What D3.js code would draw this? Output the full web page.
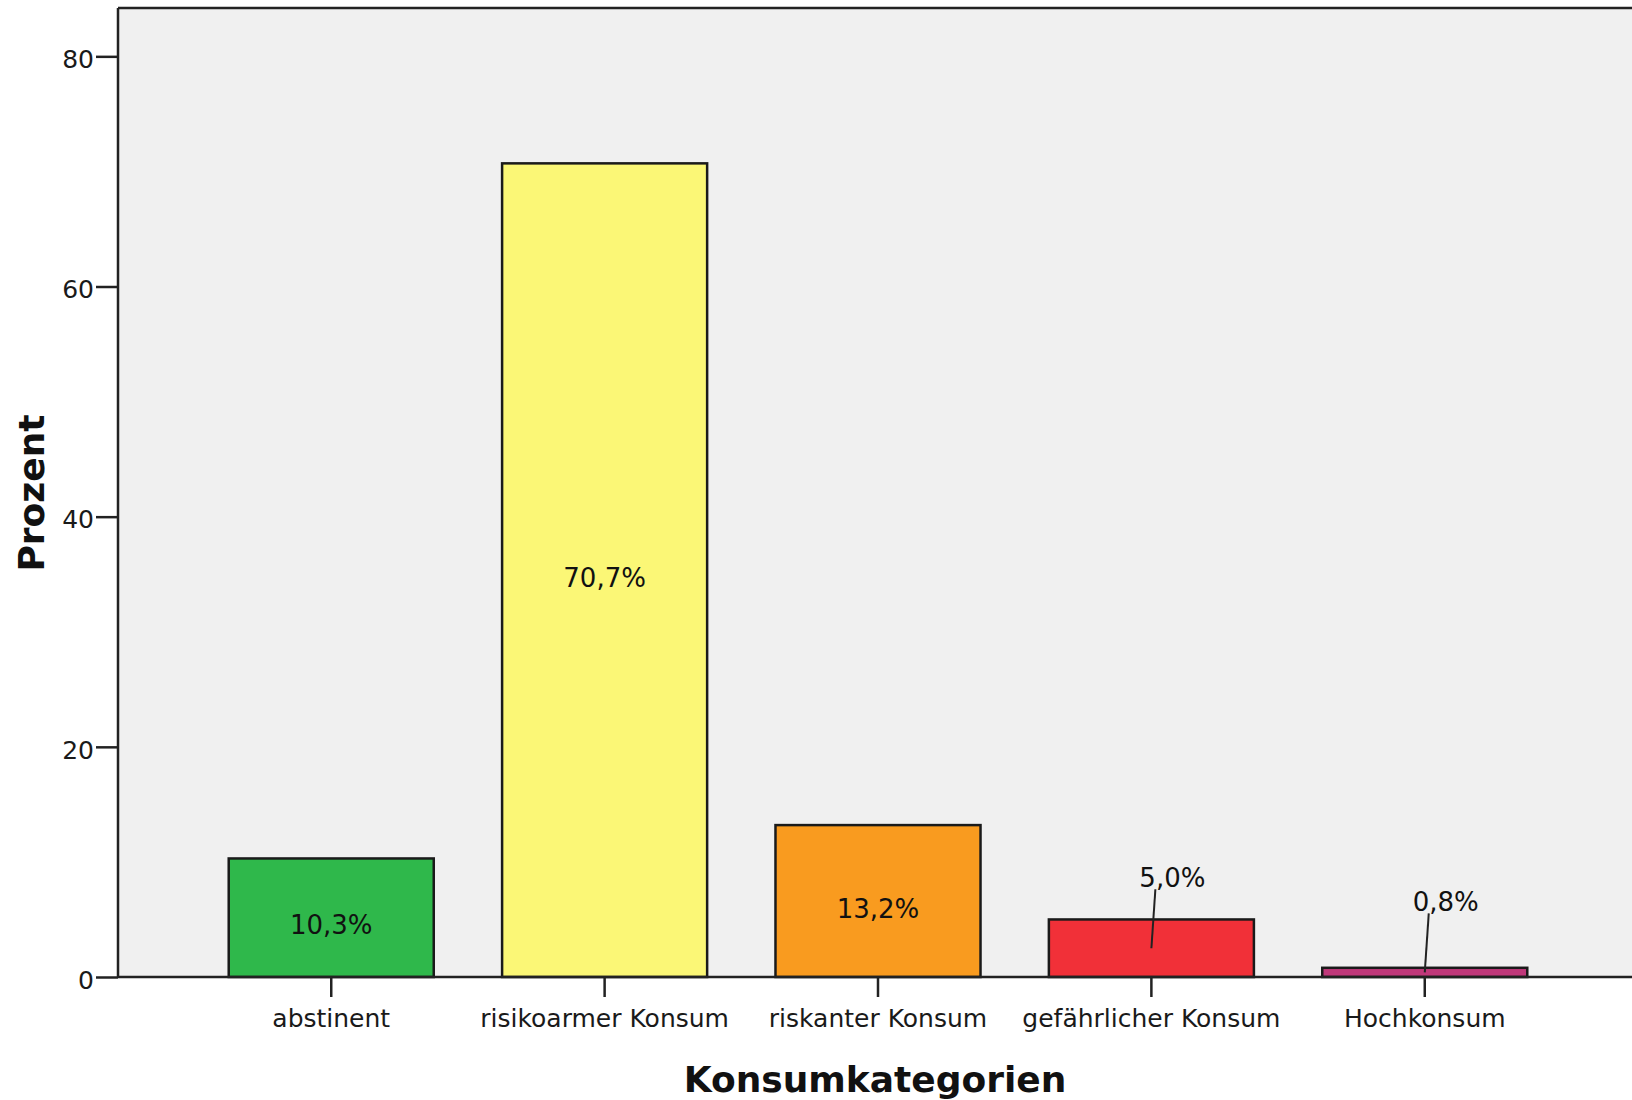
<!DOCTYPE html>
<html lang="de">
<head>
<meta charset="UTF-8">
<title>Konsumkategorien</title>
<script src="https://d3js.org/d3.v7.min.js"></script>
<style>
  * { margin: 0; padding: 0; box-sizing: border-box; }
  body { background: #ffffff; font-family: 'DejaVu Sans', sans-serif; }
  .axis text { fill: #1a1a1a; font-size: 25px; font-family: 'DejaVu Sans', sans-serif; }
  .axis line, .axis path { stroke: #222; stroke-width: 2.5px; }
  .value-label { font-size: 26px; fill: #111; }
  .axis-title { font-size: 36px; font-weight: bold; fill: #111; }
</style>
</head>
<body>
<div id="chart"></div>
<script>
  const categories = ["abstinent", "risikoarmer Konsum", "riskanter Konsum", "gefährlicher Konsum", "Hochkonsum"];
  const percents = [10.3, 70.7, 13.2, 5.0, 0.8];
  const labels = ["10,3%", "70,7%", "13,2%", "5,0%", "0,8%"];
  const colors = ["#2fb84b", "#fbf776", "#f99b1f", "#f13038", "#c0387a"];
  const yTicks = [0, 20, 40, 60, 80];

  const W = 1632, H = 1100;
  const plot = { left: 118, top: 8, right: 1638, bottom: 977 };

  const svg = d3.select("#chart").append("svg")
    .attr("width", W).attr("height", H);

  const x = d3.scaleBand()
    .domain(categories)
    .range([plot.left, plot.right])
    .paddingInner(0.25)
    .paddingOuter(0.405);

  const y = d3.scaleLinear()
    .domain([0, 84.2])
    .range([plot.bottom, plot.top]);

  // plot background
  svg.append("rect")
    .attr("x", plot.left).attr("y", plot.top)
    .attr("width", plot.right - plot.left).attr("height", plot.bottom - plot.top)
    .attr("fill", "#f0f0f0");

  svg.append("line")
    .attr("x1", plot.left).attr("x2", plot.right)
    .attr("y1", plot.top).attr("y2", plot.top)
    .attr("stroke", "#222").attr("stroke-width", 2.5);

  // bars
  svg.selectAll(".bar")
    .data(categories)
    .join("rect")
    .attr("class", "bar")
    .attr("x", d => x(d))
    .attr("y", (d, i) => y(percents[i]))
    .attr("width", x.bandwidth())
    .attr("height", (d, i) => y(0) - y(percents[i]))
    .attr("fill", (d, i) => colors[i])
    .attr("stroke", "#1a1a1a")
    .attr("stroke-width", 2.5);

  // axes
  svg.append("g")
    .attr("class", "axis")
    .attr("transform", `translate(0,${plot.bottom})`)
    .call(d3.axisBottom(x).tickSize(20).tickSizeOuter(0).tickPadding(12))
    .call(g => g.select(".domain").attr("d", `M${plot.left},0H${plot.right}`));

  svg.append("g")
    .attr("class", "axis")
    .attr("transform", `translate(${plot.left},0)`)
    .call(d3.axisLeft(y).tickValues(yTicks).tickSize(22).tickSizeOuter(0).tickPadding(2))
    .call(g => g.select(".domain").attr("d", `M0,${plot.top}V${plot.bottom}`))
    .call(g => g.selectAll("text").attr("dy", "0.45em"));

  // value labels: inside tall bars, above short bars with a leader line
  categories.forEach((c, i) => {
    const cx = x(c) + x.bandwidth() / 2;
    const top = y(percents[i]);
    const mid = (top + y(0)) / 2;
    const inside = (y(0) - top) > 80;
    if (inside) {
      svg.append("text")
        .attr("class", "value-label")
        .attr("x", cx).attr("y", mid + 9)
        .attr("text-anchor", "middle")
        .attr("dominant-baseline", "middle")
        .text(labels[i]);
    } else {
      const ly = mid - 71;
      svg.append("line")
        .attr("x1", cx + 4).attr("y1", ly + 12)
        .attr("x2", cx).attr("y2", mid)
        .attr("stroke", "#222").attr("stroke-width", 2);
      svg.append("text")
        .attr("class", "value-label")
        .attr("x", cx + 21).attr("y", ly + 10)
        .attr("text-anchor", "middle")
        .text(labels[i]);
    }
  });

  // axis titles
  svg.append("text")
    .attr("class", "axis-title")
    .attr("x", 875).attr("y", 1092)
    .attr("text-anchor", "middle")
    .text("Konsumkategorien");

  svg.append("text")
    .attr("class", "axis-title")
    .attr("transform", "translate(44,493) rotate(-90)")
    .attr("text-anchor", "middle")
    .text("Prozent");
</script>
</body>
</html>
